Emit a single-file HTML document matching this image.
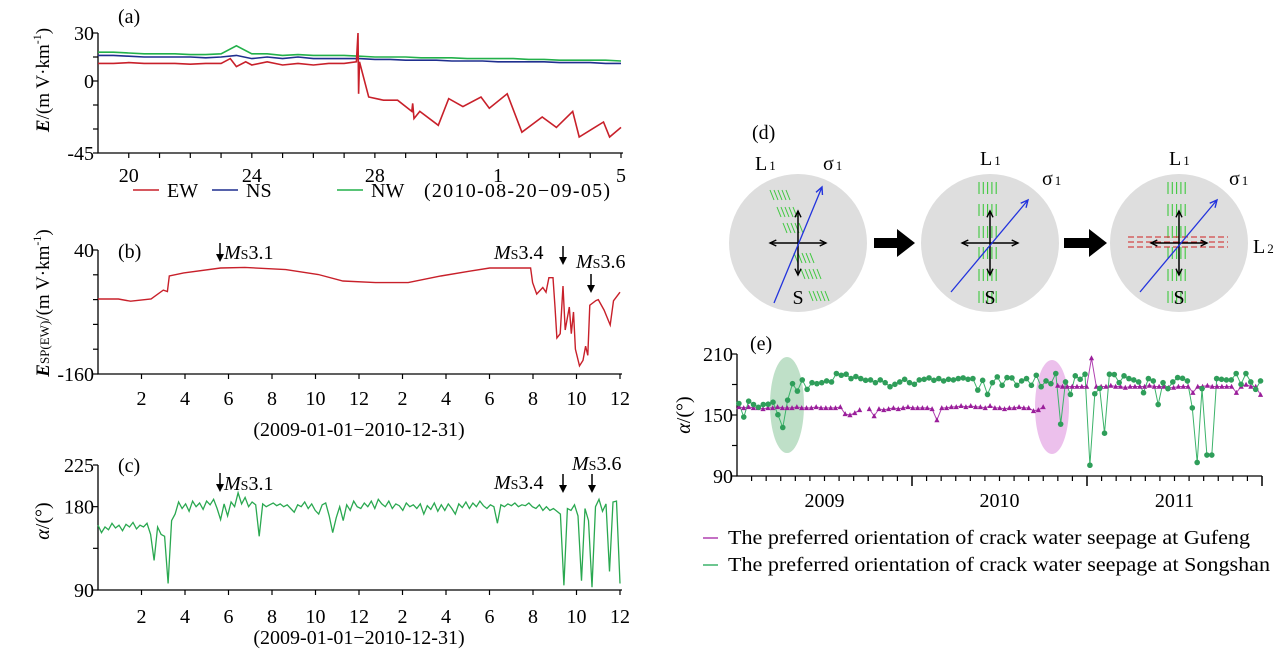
<!DOCTYPE html>
<html><head><meta charset="utf-8"><style>
html,body{margin:0;padding:0;background:#fff;}
svg{display:block;font-family:"Liberation Serif",serif;}
</style></head><body>
<svg id="fig" width="1278" height="666" viewBox="0 0 1278 666" xmlns="http://www.w3.org/2000/svg">
<rect width="1278" height="666" fill="#fff"/>
<g id="pa"></g>
<g id="pb"></g>
<g id="pc"></g>
<g id="pd"></g>
<g id="pe"></g>
</svg>
<script>
// ---------- Panel (a) data ----------
const aDays = [0,0.5,1,1.5,2,2.5,3,3.5,4,4.5,5,5.5,6,6.5,7,7.5,8,8.5,9,9.5,10,10.5,11,11.5,12,12.5,13,13.5,14,14.5,15,15.5,16,16.5,17];
const aNW = [18,18,17.5,17,17,17,16.5,16.5,17,22,17,17,16,16.5,16,16,16,15.5,15,15,15,14.5,14.5,14.5,14,14,14,14,13.5,13.5,13,13,13,13,12.5];
const aNS = [16,16,15.5,15,15,15,15,14.5,15,16,14,15,14,15,14,14,14,14,13.5,13.5,13,13,13,12.5,12.5,12.5,12,12,12,12,11.5,11.5,11.5,11,11];
const aEWDays = [0,0.5,1,1.5,2,2.5,3,3.5,4,4.3,4.5,4.8,5,5.5,6,6.5,7,7.5,8,8.4,8.45,8.47,8.5,8.8,9.28,9.74,10.2,10.23,10.27,10.46,11.06,11.4,11.86,12.45,12.72,13.3,13.78,14.44,14.9,15.43,15.64,16.43,16.63,17];
const aEW = [11,11,11.5,11,11,11,10.5,11,11,14,9,12,10,12,10,11,10,11,11,12,30,-8,12,-10,-12,-12,-19,-14,-23.5,-19,-27.7,-11,-16,-10,-17,-8,-32,-22.5,-29,-19,-35,-25.6,-35,-29];
const aXTicks = ["20","24","28","1","5"];
const aXTickDays = [1,5,9,13,17];
const aYTicks = [30,0,-45];
// ---------- Panel (b) data ----------
const bMonths = [0,0.94,1.5,2.44,3.0,3.19,3.28,3.94,5.63,6.75,8.63,10.13,11.26,12.76,14.26,15.76,17.08,18.01,19.89,19.98,20.17,20.45,20.6,20.73,20.92,21.01,21.1,21.25,21.38,21.48,21.67,21.76,21.86,21.95,22.14,22.3,22.42,22.52,22.61,22.89,23.0,23.27,23.55,23.7,24];
const bValues = [-39,-39,-42.6,-39,-24.7,-27,-2,3,11,12,8.4,0.5,-10,-12.6,-12.6,-2,5.8,11,11,-12.6,-31,-20.5,-28,-4.7,-4.7,-52,-102,-95,-18,-89,-52,-95,-60,-120,-147,-138,-115,-130,-49,-41.6,-40,-57,-81,-42,-28];
const monthLabels = ["2","4","6","8","10","12","2","4","6","8","10","12"];
const bYTicks = [40,-160];
// ---------- Panel (c) data (sampled every ~5 days) ----------
const cValues = [160,152,158,155,162,157,160,154,161,158,163,156,160,158,162,150,122,158,150,148,97,165,172,185,178,183,175,186,180,184,177,186,182,188,178,166,183,170,185,180,195,183,190,180,185,182,148,183,180,182,184,181,183,180,182,178,174,182,180,185,178,183,176,172,182,184,170,152,168,180,165,182,176,186,180,178,184,180,186,178,188,183,180,186,178,183,181,176,184,180,182,178,183,172,181,177,184,175,182,176,183,178,172,183,179,185,178,184,180,186,181,178,182,180,162,182,180,183,181,184,180,182,181,184,180,178,182,176,180,176,178,175,172,95,178,176,182,170,100,178,165,93,180,188,175,183,110,185,186,97];
const cYTicks = [225,180,90];
// ---------- Panel (e) data ----------
const eSongshan = [161.3,148,163.6,160.3,157.6,160.3,160.6,162.6,150.3,137.7,164.6,180.8,173.5,184.5,175.2,181.8,180.8,181.8,183.5,182.5,190.8,189.1,190.1,185.8,187.8,185.8,184.1,184.5,181.8,184.5,181.8,177.8,180.2,182.5,185.1,181.8,180.2,184.5,185.1,186.5,184.1,185.8,183.5,185.1,184.5,185.8,186.5,185.1,185.8,174.5,184.1,170.2,181.8,187.5,179.2,186.8,186.5,179.2,183.5,185.8,179.2,189.1,177.8,183.5,180.8,190.8,141,182.5,170.2,188.5,185.1,190.1,100.6,170.9,176.2,132.1,190.1,189.8,181.8,188.5,185.8,184.5,182.5,171.9,185.8,183.5,160.3,181.8,175.9,182.5,186.8,186.1,183.5,157,103.3,175.9,110.6,110.6,185.8,185.1,184.5,184.5,190.8,180.2,190.8,182.5,175.2,183.5];
const eGufeng = [158,157,158,157,157,156,157,157,158,157,157,157,158,157,157,157,158,157,157,157,157,158,151,150,152,155,null,156,149,156,155,156,157,156,157,158,157,157,157,157,156,145,157,157,158,158,159,158,159,158,158,157,159,157,157,156,157,157,158,157,157,154,155,158,null,null,179,178,178,178,178,178,178,206,178,178,178,179,178,178,177,178,178,178,178,179,178,178,178,177,177,178,178,178,172,178,178,179,178,178,178,178,178,172,178,180,178,178,170];
const eYearLabels = ["2009","2010","2011"];
const eYTicks = [210,150,90];

const NS='http://www.w3.org/2000/svg';
function mk(tag,parent,attrs,txt){const e=document.createElementNS(NS,tag);for(const k in attrs)e.setAttribute(k,attrs[k]);if(txt!==undefined)e.textContent=txt;parent.appendChild(e);return e;}
function poly(pts){return pts.map(p=>p[0].toFixed(1)+','+p[1].toFixed(1)).join(' ');}
const FS=20;

// ================= Panel A =================
(function(){
const g=document.getElementById('pa');
const X0=98,X1=621,Y0=33,Y1=153;
const xA=d=>X0+d*(X1-X0)/17, yA=v=>Y0+(30-v)*(Y1-Y0)/75;
let ax=mk('path',g,{d:`M${X0},${Y0}V${Y1}H${X1+2}`,stroke:'#000','stroke-width':1.3,fill:'none'});

for(let v=30;v>=-45;v-=15){let t=mk('line',g,{x1:X0-5,x2:X0,y1:yA(v),y2:yA(v),stroke:'#000','stroke-width':1.2});}
aYTicks.forEach(v=>{let t=mk('text',g,{x:X0-4,y:yA(v)+7,'font-size':FS,'text-anchor':'end'},String(v));});
for(let d=1;d<=17;d++){let t=mk('line',g,{x1:xA(d),x2:xA(d),y1:Y1,y2:Y1+5,stroke:'#000','stroke-width':1.2});}
aXTicks.forEach((s,i)=>{let t=mk('text',g,{x:xA(aXTickDays[i]),y:182,'font-size':FS,'text-anchor':'middle'},s);});
let l1=mk('polyline',g,{points:poly(aDays.map((d,i)=>[xA(d),yA(aNW[i])])),stroke:'#22b04a','stroke-width':1.6,fill:'none'});
let l2=mk('polyline',g,{points:poly(aDays.map((d,i)=>[xA(d),yA(aNS[i])])),stroke:'#1f2f8f','stroke-width':1.6,fill:'none'});
let l3=mk('polyline',g,{points:poly(aEWDays.map((d,i)=>[xA(d),yA(aEW[i])])),stroke:'#c8202a','stroke-width':1.6,fill:'none'});
let pl=mk('text',g,{x:118,y:23,'font-size':FS},'(a)');
let yt=mk('text',g,{transform:'translate(49,80) rotate(-90)','font-size':19,'text-anchor':'middle'});
mk('tspan',yt,{'font-weight':'bold','font-style':'italic'},'E');mk('tspan',yt,{},'/(m V·km');mk('tspan',yt,{'font-size':12,dy:-8},'-1');mk('tspan',yt,{dy:8},')');
const leg=[[133,'#c8202a','EW'],[212,'#1f2f8f','NS'],[337,'#22b04a','NW']];
leg.forEach(L=>{let gg=mk('g',g,{});
mk('line',gg,{x1:L[0],x2:L[0]+26,y1:190,y2:190,stroke:L[1],'stroke-width':1.6});mk('text',gg,{x:L[0]+34,y:197,'font-size':FS},L[2]);});
let dr=mk('text',g,{x:424,y:197,'font-size':FS,textLength:186},'(2010-08-20−09-05)');
})();

// ================= Panel B & C shared =================
const MX0=98,MX1=620;
const xM=m=>MX0+m*(MX1-MX0)/24;
function monthAxis(g,Y0,Y1,suffix,labY){
 let ax=mk('path',g,{d:`M${MX0},${Y0}V${Y1}H${MX1+2}`,stroke:'#000','stroke-width':1.3,fill:'none'});
 
 monthLabels.forEach((s,i)=>{const m=2*(i+1);
  let t=mk('line',g,{x1:xM(m),x2:xM(m),y1:Y1,y2:Y1+5,stroke:'#000','stroke-width':1.2});
  let tl=mk('text',g,{x:xM(m),y:labY,'font-size':FS,'text-anchor':'middle'},s);});
}
function quake(g,x,yArrow,txt,tx,ty,nm){
 let gg=mk('g',g,{});
 mk('line',gg,{x1:x,x2:x,y1:yArrow,y2:yArrow+16,stroke:'#000','stroke-width':1.5});
 mk('path',gg,{d:`M${x-4},${yArrow+11}L${x},${yArrow+19}L${x+4},${yArrow+11}Z`,fill:'#000'});
 if(txt){let t=mk('text',gg,{x:tx,y:ty,'font-size':FS});mk('tspan',t,{'font-style':'italic'},'M');mk('tspan',t,{'font-size':14},'S');mk('tspan',t,{},txt);}
}
(function(){
const g=document.getElementById('pb');
const Y0=250,Y1=374;const yB=v=>Y0+(40-v)*(Y1-Y0)/200;
monthAxis(g,Y0,Y1,'b',405);
for(let v=40;v>=-160;v-=40){let t=mk('line',g,{x1:MX0-5,x2:MX0,y1:yB(v),y2:yB(v),stroke:'#000','stroke-width':1.2});}
bYTicks.forEach(v=>{let t=mk('text',g,{x:MX0-4,y:yB(v)+7,'font-size':FS,'text-anchor':'end'},String(v));});
let l=mk('polyline',g,{points:poly(bMonths.map((m,i)=>[xM(m),yB(bValues[i])])),stroke:'#c8202a','stroke-width':1.4,fill:'none'});
let pl=mk('text',g,{x:118,y:258,'font-size':FS},'(b)');
quake(g,220,243,'3.1',224,259,'quake-ms31-b');
let t2=mk('text',g,{x:494,y:259,'font-size':FS});mk('tspan',t2,{'font-style':'italic'},'M');mk('tspan',t2,{'font-size':14},'S');mk('tspan',t2,{},'3.4');
quake(g,563,246,'',0,0,'quake-ms34-b-arrow');
let t3=mk('text',g,{x:576,y:268,'font-size':FS});mk('tspan',t3,{'font-style':'italic'},'M');mk('tspan',t3,{'font-size':14},'S');mk('tspan',t3,{},'3.6');
quake(g,591,274,'',0,0,'quake-ms36-b-arrow');
let yt=mk('text',g,{transform:'translate(49,303) rotate(-90)','font-size':19,'text-anchor':'middle'});
mk('tspan',yt,{'font-weight':'bold','font-style':'italic'},'E');mk('tspan',yt,{'font-size':13},'SP(EW)');mk('tspan',yt,{},'/(m V·km');mk('tspan',yt,{'font-size':12,dy:-8},'-1');mk('tspan',yt,{dy:8},')');
let xl=mk('text',g,{x:359,y:436,'font-size':FS,'text-anchor':'middle'},'(2009-01-01−2010-12-31)');
})();
(function(){
const g=document.getElementById('pc');
const Y0=465,Y1=590;const yC=v=>Y0+(225-v)*(Y1-Y0)/135;
monthAxis(g,Y0,Y1,'c',623);
for(let v=225;v>=90;v-=45){let t=mk('line',g,{x1:MX0-5,x2:MX0,y1:yC(v),y2:yC(v),stroke:'#000','stroke-width':1.2});}
cYTicks.forEach(v=>{let t=mk('text',g,{x:MX0-4,y:yC(v)+7,'font-size':FS,'text-anchor':'end'},String(v));});
const n=cValues.length;
let l=mk('polyline',g,{points:poly(cValues.map((v,i)=>[xM(i*24/(n-1)),yC(v)])),stroke:'#2aa850','stroke-width':1.3,fill:'none'});
let pl=mk('text',g,{x:118,y:472,'font-size':FS},'(c)');
quake(g,220,473,'3.1',224,490,'quake-ms31-c');
let t2=mk('text',g,{x:494,y:489,'font-size':FS});mk('tspan',t2,{'font-style':'italic'},'M');mk('tspan',t2,{'font-size':14},'S');mk('tspan',t2,{},'3.4');
quake(g,563,474,'',0,0,'quake-ms34-c-arrow');
let t3=mk('text',g,{x:572,y:470,'font-size':FS});mk('tspan',t3,{'font-style':'italic'},'M');mk('tspan',t3,{'font-size':14},'S');mk('tspan',t3,{},'3.6');
quake(g,592,474,'',0,0,'quake-ms36-c-arrow');
let yt=mk('text',g,{transform:'translate(49,521) rotate(-90)','font-size':20,'text-anchor':'middle'});
mk('tspan',yt,{'font-style':'italic'},'α');mk('tspan',yt,{},'/(°)');
let xl=mk('text',g,{x:359,y:644,'font-size':FS,'text-anchor':'middle'},'(2009-01-01−2010-12-31)');
})();

// ================= Panel D (diagram) =================
(function(){
const g=document.getElementById('pd');
let pl=mk('text',g,{x:752,y:139,'font-size':FS},'(d)');
const cs=[798,990,1179],cy=243,R=69;
function arrowHead(gg,x1,y1,x2,y2,col,sz){const a=Math.atan2(y2-y1,x2-x1);
 mk('polyline',gg,{points:`${x2-sz*Math.cos(a-0.45)},${y2-sz*Math.sin(a-0.45)} ${x2},${y2} ${x2-sz*Math.cos(a+0.45)},${y2-sz*Math.sin(a+0.45)}`,stroke:col,fill:'none','stroke-width':1.4});}
cs.forEach((cx,k)=>{
 let gg=mk('g',g,{});
 mk('circle',gg,{cx:cx,cy:cy,r:R,fill:'#dedede'});
 if(k===0){[[778,195],[785,212],[791,228],[802,258],[809,274],[817,296]].forEach(p=>{for(let j=0;j<5;j++){const x=p[0]-8+j*4;mk('line',gg,{x1:x,y1:p[1]-5,x2:x+4,y2:p[1]+5,stroke:'#3ec83e','stroke-width':1});}});}
 else{const hx=k===1?979:1168;[188,210,232,253,275,297].forEach(y=>{for(let j=0;j<5;j++){const x=hx+j*4.3;mk('line',gg,{x1:x,y1:y-6,x2:x,y2:y+6,stroke:'#3ec83e','stroke-width':1.1});}});}
 if(k===2){[237,242,247].forEach(y=>mk('line',gg,{x1:1128,x2:1228,y1:y,y2:y,stroke:'#d02020','stroke-width':1,'stroke-dasharray':'6,3'}));}
 const hw=28;
 mk('line',gg,{x1:cx-hw,x2:cx+hw,y1:cy,y2:cy,stroke:'#000','stroke-width':1.5});
 mk('line',gg,{x1:cx,x2:cx,y1:cy-32,y2:cy+32,stroke:'#000','stroke-width':1.5});
 arrowHead(gg,cx,cy,cx+hw,cy,'#000',7);arrowHead(gg,cx,cy,cx-hw,cy,'#000',7);arrowHead(gg,cx,cy,cx,cy-32,'#000',7);arrowHead(gg,cx,cy,cx,cy+32,'#000',7);
 const b=k===0?[774,303,822,187]:[cx-39,292,cx+38,200];
 mk('line',gg,{x1:b[0],y1:b[1],x2:b[2],y2:b[3],stroke:'#2233dd','stroke-width':1.3});arrowHead(gg,b[0],b[1],b[2],b[3],'#2233dd',8);
 mk('text',gg,{x:cx,y:304,'font-size':FS,'text-anchor':'middle'},'S');
});
const labs=[[755,170,'L','1','l1-label-1'],[980,165,'L','1','l1-label-2'],[1169,165,'L','1','l1-label-3'],[1253,253,'L','2','l2-label']];
labs.forEach(L=>{let t=mk('text',g,{x:L[0],y:L[1],'font-size':FS});mk('tspan',t,{},L[2]);mk('tspan',t,{'font-size':13,dx:2},L[3]);});
[[823,170],[1042,185],[1229,185]].forEach((p,i)=>{let t=mk('text',g,{x:p[0],y:p[1],'font-size':FS});mk('tspan',t,{},'σ');mk('tspan',t,{'font-size':13,dx:2},'1');});
[[874,915],[1064,1107]].forEach((a,i)=>{let p=mk('path',g,{d:`M${a[0]},${cy-5}H${a[1]-18}V${cy-14}L${a[1]},${cy}L${a[1]-18},${cy+14}V${cy+5}H${a[0]}Z`,fill:'#000'});});
})();

// ================= Panel E =================
(function(){
const g=document.getElementById('pe');
const X0=737,X1=1262,Y0=354,Y1=476;
const xE=m=>X0+m*(X1-X0)/36, yE=v=>Y0+(210-v)*(Y1-Y0)/120;
let e1=mk('ellipse',g,{cx:787,cy:405,rx:17,ry:48,fill:'#bfe0c8'});
let e2=mk('ellipse',g,{cx:1052,cy:407,rx:17,ry:47,fill:'#ecc0ec'});
let ax=mk('path',g,{d:`M${X0},${Y0}V${Y1}H${X1}`,stroke:'#000','stroke-width':1.3,fill:'none'});
for(let v=210;v>=90;v-=30){let t=mk('line',g,{x1:X0-5,x2:X0,y1:yE(v),y2:yE(v),stroke:'#000','stroke-width':1.2});}
eYTicks.forEach(v=>{let t=mk('text',g,{x:X0-4,y:yE(v)+7,'font-size':FS,'text-anchor':'end'},String(v));});
for(let m=1;m<=36;m++){const maj=m%12===0;let t=mk('line',g,{x1:xE(m),x2:xE(m),y1:Y1,y2:Y1+(maj?10:5),stroke:'#000','stroke-width':maj?1.5:1.2});}
eYearLabels.forEach((s,i)=>{let t=mk('text',g,{x:xE(6+12*i),y:507,'font-size':FS,'text-anchor':'middle'},s);});
const m0=0.13,m1=35.9;
const nS=eSongshan.length,stS=(m1-m0)/(nS-1);
const nG=eGufeng.length,stG=(m1-m0)/(nG-1);
let seg=[];const segs=[];eGufeng.forEach((v,i)=>{if(v===null){if(seg.length)segs.push(seg);seg=[];}else seg.push([xE(m0+i*stG),yE(v)]);});if(seg.length)segs.push(seg);
segs.forEach(s=>{let l=mk('polyline',g,{points:poly(s),stroke:'#b040b0','stroke-width':1,fill:'none'});});
let ls=mk('polyline',g,{points:poly(eSongshan.map((v,i)=>[xE(m0+i*stS),yE(v)])),stroke:'#3cb36a','stroke-width':1,fill:'none'});
eGufeng.forEach((v,i)=>{if(v===null)return;const x=xE(m0+i*stG),y=yE(v);let p=mk('path',g,{d:`M${x-2.6},${y+2.2}L${x},${y-2.8}L${x+2.6},${y+2.2}Z`,fill:'#9a1e9a'});});
eSongshan.forEach((v,i)=>{let c=mk('circle',g,{cx:xE(m0+i*stS),cy:yE(v),r:2.8,fill:'#2f9e5a'});});
let pl=mk('text',g,{x:750,y:350,'font-size':FS},'(e)');
let yt=mk('text',g,{transform:'translate(690,415) rotate(-90)','font-size':20,'text-anchor':'middle'});
mk('tspan',yt,{'font-style':'italic'},'α');mk('tspan',yt,{},'/(°)');
const legs=[[538,'#b040b0','The preferred orientation of crack water seepage at Gufeng',522,'legend-gufeng'],[565,'#3cb36a','The preferred orientation of crack water seepage at Songshan',542,'legend-songshan']];
legs.forEach(L=>{let gg=mk('g',g,{});
 mk('line',gg,{x1:703,x2:718,y1:L[0],y2:L[0],stroke:L[1],'stroke-width':1.5});
 mk('text',gg,{x:728,y:L[0]+6,'font-size':FS,textLength:L[3],lengthAdjust:'spacingAndGlyphs'},L[2]);});
})();
</script>
</body></html>
